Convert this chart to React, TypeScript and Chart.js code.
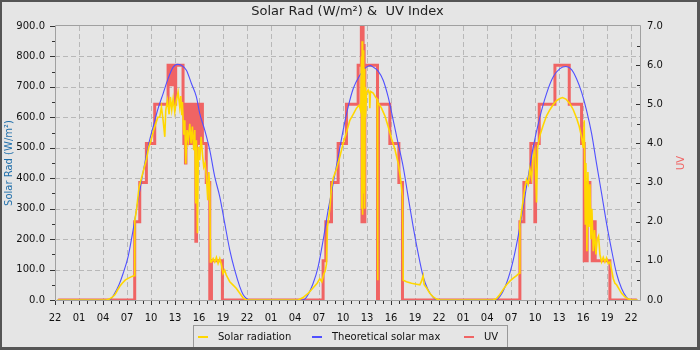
import React, { useEffect, useRef } from "react";
import { Chart, registerables } from "chart.js";

Chart.register(...registerables);

// ---------- text ----------
const TITLE = "Solar Rad (W/m²) &  UV Index";
const LEFT_TITLE = "Solar Rad (W/m²)";
const RIGHT_TITLE = "UV";
const SERIES_NAMES = ["Solar radiation", "Theoretical solar max", "UV"];

// x values are hours since the first tick (22:00)
const START_HOUR = 22;
const X_MAX = 73.1;
const RAD_MAX = 900;
const UV_MAX = 7;

// ---------- Solar radiation (W/m²): [hour, value] ----------
const solarDay1: [number, number][] = [
  [0.3, 0], [6.4, 0], [6.8, 3], [7.2, 10], [7.5, 18], [7.8, 32], [8.1, 45], [8.4, 55], [8.8, 66],
  [9.2, 72], [9.5, 76], [9.9, 80], [9.97, 260], [10.2, 300], [10.5, 370], [10.8, 400], [11.1, 430],
  [11.4, 460], [11.7, 500], [12.0, 525], [12.3, 555], [12.6, 580], [12.85, 600], [13.09, 601],
  [13.3, 634], [13.51, 590], [13.72, 536], [13.84, 623], [14.05, 656], [14.26, 610], [14.42, 667],
  [14.59, 625], [14.76, 661], [14.97, 617], [15.17, 656], [15.38, 683], [15.59, 634], [15.72, 670],
  [15.84, 607], [15.92, 650], [16.09, 543], [16.22, 590], [16.34, 448], [16.5, 558], [16.67, 525],
  [16.84, 579], [17.01, 514], [17.17, 570], [17.34, 492], [17.47, 558], [17.59, 317], [17.67, 525],
  [17.8, 219], [17.92, 503], [18.09, 459], [18.26, 536], [18.42, 481], [18.59, 437], [18.76, 450],
  [18.92, 405], [19.09, 328], [19.22, 420], [19.34, 372], [19.42, 125], [19.55, 125], [19.76, 136],
  [19.96, 125], [20.17, 140], [20.38, 120], [20.59, 136], [20.8, 115], [21.0, 87], [21.2, 98],
  [21.4, 82], [21.84, 60], [22.26, 49], [22.67, 38], [23.09, 22], [23.5, 7], [23.92, 0],
];
const solarDay2: [number, number][] = [
  [30.38, 0], [31.0, 8], [31.63, 22], [32.26, 40], [32.76, 55], [33.09, 70], [33.34, 60], [33.59, 85],
  [33.76, 95], [33.92, 118], [34.05, 240], [34.34, 300], [34.55, 370], [34.76, 400], [35.17, 430],
  [35.59, 470], [36.01, 515], [36.42, 550], [36.84, 590], [37.26, 610], [37.67, 630], [38.0, 640],
  [38.21, 620], [38.3, 800], [38.34, 300], [38.38, 850], [38.44, 280], [38.5, 820], [38.57, 350],
  [38.63, 760], [38.7, 300], [38.76, 700], [38.8, 600], [38.92, 680], [39.13, 690], [39.3, 675],
  [39.34, 630], [39.42, 685], [39.76, 680], [40.09, 665], [40.26, 660], [40.3, 65], [40.36, 650],
  [40.8, 630], [41.22, 605], [41.63, 570], [42.05, 530], [42.47, 495], [42.88, 450], [43.17, 400],
  [43.42, 340], [43.51, 65], [43.92, 60], [44.55, 55], [45.17, 52], [45.59, 50], [45.8, 62],
  [46.0, 80], [46.13, 50], [46.42, 40], [46.84, 22], [47.26, 10], [47.67, 3], [48.09, 0],
];
const solarDay3: [number, number][] = [
  [54.76, 0], [55.17, 5], [55.59, 18], [56.01, 35], [56.42, 50], [56.84, 62], [57.26, 72], [57.67, 80],
  [58.01, 88], [58.09, 250], [58.3, 290], [58.51, 330], [58.72, 370], [58.92, 395], [59.13, 380],
  [59.34, 430], [59.55, 400], [59.76, 470], [59.96, 490], [60.17, 320], [60.3, 500], [60.59, 540],
  [61.01, 575], [61.42, 605], [61.84, 625], [62.26, 642], [62.67, 655], [63.09, 662], [63.42, 665],
  [63.84, 660], [64.34, 645], [64.76, 625], [65.17, 598], [65.51, 570], [65.8, 535], [66.01, 500],
  [66.13, 590], [66.26, 250], [66.34, 450], [66.47, 160], [66.59, 420], [66.72, 240], [66.84, 380],
  [66.97, 200], [67.09, 300], [67.26, 160], [67.42, 230], [67.59, 150], [67.76, 200], [67.92, 210],
  [68.09, 150], [68.3, 125], [68.51, 140], [68.72, 125], [68.92, 138], [69.13, 120], [69.34, 125],
  [69.55, 100], [69.76, 70], [69.97, 55], [70.17, 50], [70.51, 35], [70.8, 22], [71.22, 10],
  [71.63, 3], [72.05, 0], [72.8, 0],
];

// ---------- Theoretical solar max (W/m²): [hour, value] ----------
const theoDay1: [number, number][] = [
  [0.3, 0], [6.5, 0], [7.0, 4], [7.46, 22], [8.0, 50], [8.51, 87], [9.13, 142], [9.76, 230],
  [10.38, 328], [11.01, 420], [11.63, 503], [12.26, 569], [12.88, 629], [13.51, 678], [14.13, 727],
  [14.76, 765], [15.26, 774], [15.8, 771], [16.42, 755], [17.05, 711], [17.67, 667], [18.09, 612],
  [18.71, 558], [19.34, 492], [19.96, 405], [20.59, 339], [21.21, 252], [21.84, 164], [22.46, 98],
  [23.09, 44], [23.5, 18], [23.92, 5], [24.3, 0],
];
const theoDay2: [number, number][] = [
  [30.9, 0], [31.42, 9], [32.26, 55], [32.88, 109], [33.51, 197], [34.13, 295], [34.76, 383],
  [35.38, 470], [36.01, 558], [36.63, 634], [37.26, 694], [38.09, 738], [38.92, 765], [39.4, 770],
  [39.76, 765], [40.38, 752], [41.01, 722], [41.63, 667], [42.26, 591], [42.88, 514], [43.51, 437],
  [44.13, 339], [44.76, 240], [45.38, 153], [46.01, 77], [46.63, 33], [47.26, 9], [47.88, 0],
];
const theoDay3: [number, number][] = [
  [54.96, 0], [55.6, 12], [56.42, 55], [57.26, 131], [58.09, 240], [58.92, 372], [59.76, 503],
  [60.59, 601], [61.42, 678], [62.26, 733], [63.09, 760], [63.84, 767], [64.55, 757], [65.17, 727],
  [65.8, 683], [66.42, 623], [67.05, 547], [67.67, 448], [68.3, 350], [68.92, 252], [69.55, 164],
  [70.17, 87], [70.8, 38], [71.42, 9], [72.05, 0], [72.8, 0],
];

// ---------- UV index (value holds from its hour to the next): [hour, value] ----------
const uvDay1: [number, number][] = [
  [0.4, 0], [9.96, 2], [10.59, 3], [11.42, 4], [12.46, 5], [14.13, 6], [14.2, 5.5], [14.28, 6],
  [14.36, 5.5], [14.44, 6], [14.52, 5.5], [14.6, 6], [14.68, 5.5], [14.76, 6], [14.84, 5.5],
  [14.92, 6], [15.02, 5], [15.08, 6], [16.0, 5], [16.1, 4], [16.2, 5], [16.3, 3.5], [16.36, 5],
  [16.5, 4], [16.6, 5], [16.75, 4], [16.85, 5], [17.0, 4], [17.1, 5], [17.25, 4], [17.35, 5],
  [17.5, 4], [17.6, 1.5], [17.68, 5], [17.8, 4], [17.9, 5], [18.0, 4], [18.1, 5], [18.25, 4],
  [18.3, 5], [18.42, 4], [18.9, 3], [19.34, 0], [19.55, 1], [20.92, 0],
];
const uvDay2: [number, number][] = [
  [33.5, 1], [33.84, 2], [34.55, 3], [35.38, 4], [36.42, 5], [37.88, 6], [38.28, 7], [38.36, 2],
  [38.42, 7], [38.5, 2], [38.58, 6.5], [38.63, 2], [38.72, 6], [40.3, 0], [40.42, 5], [41.84, 4],
  [42.97, 3], [43.42, 0],
];
const uvDay3: [number, number][] = [
  [58.09, 2], [58.59, 3], [59.46, 4], [59.96, 2], [60.05, 4], [60.51, 5], [62.47, 6], [64.26, 5],
  [65.8, 4], [66.13, 1], [66.5, 3], [66.84, 2], [67.13, 1], [67.34, 2], [67.5, 1], [69.34, 0],
  [72.7, 0],
];

const toPoints = (...days: [number, number][][]) =>
  days.flat().map(([x, y]) => ({ x, y }));

const FONT = "DejaVu Sans";
const BG = "#E5E5E5";

const decorPlugin = {
  id: "decor",
  beforeDraw(chart: any) {
    const { ctx, width, height } = chart;
    ctx.save();
    ctx.fillStyle = BG;
    ctx.fillRect(0, 0, width, height);
    ctx.restore();
  },
  beforeDatasetsDraw(chart: any) {
    const { ctx, chartArea: a, scales } = chart;
    const xs = scales.x, ys = scales.y, us = scales.uv;
    ctx.save();
    // dashed grid
    ctx.strokeStyle = "#B8B8B8";
    ctx.lineWidth = 1;
    ctx.setLineDash([5, 3]);
    xs.ticks.forEach((t: any) => {
      const v = Math.round(t.value * 1000) / 1000;
      if (!Number.isInteger(v) || v % 3 !== 0 || v === 0) return;
      const px = Math.round(xs.getPixelForValue(v)) + 0.5;
      ctx.beginPath(); ctx.moveTo(px, a.top); ctx.lineTo(px, a.bottom); ctx.stroke();
    });
    ys.ticks.forEach((t: any) => {
      const v = Math.round(t.value);
      if (v % 100 !== 0 || v === 0 || v === RAD_MAX) return;
      const py = Math.round(ys.getPixelForValue(v)) + 0.5;
      ctx.beginPath(); ctx.moveTo(a.left, py); ctx.lineTo(a.right, py); ctx.stroke();
    });
    ctx.setLineDash([]);
    // frame
    ctx.strokeStyle = "#A0A0A0";
    ctx.beginPath();
    ctx.moveTo(a.left + 0.5, a.top - 0.5);
    ctx.lineTo(a.right + 0.5, a.top - 0.5);
    ctx.lineTo(a.right + 0.5, a.bottom + 0.5);
    ctx.lineTo(a.left + 0.5, a.bottom + 0.5);
    ctx.closePath();
    ctx.stroke();
    // tick marks
    ctx.strokeStyle = "#333";
    xs.ticks.forEach((t: any) => {
      const v = Math.round(t.value * 1000) / 1000;
      if (!Number.isInteger(v)) return;
      const px = Math.round(xs.getPixelForValue(v)) + 0.5;
      const len = v % 3 === 0 ? 4 : 3;
      ctx.beginPath(); ctx.moveTo(px, a.bottom + 1); ctx.lineTo(px, a.bottom + 1 + len); ctx.stroke();
    });
    ys.ticks.forEach((t: any) => {
      const v = Math.round(t.value);
      const py = Math.round(ys.getPixelForValue(v)) + 0.5;
      const len = v % 100 === 0 ? 5 : 3;
      ctx.beginPath(); ctx.moveTo(a.left, py); ctx.lineTo(a.left - len, py); ctx.stroke();
    });
    us.ticks.forEach((t: any) => {
      const v = Math.round(t.value * 100) / 100;
      if (v === 0 || v === UV_MAX) return;
      const py = Math.round(us.getPixelForValue(v)) + 0.5;
      const len = Number.isInteger(v) ? 4 : 3;
      ctx.beginPath(); ctx.moveTo(a.right, py); ctx.lineTo(a.right - len, py); ctx.stroke();
    });
    ctx.restore();
  },
  afterDraw(chart: any) {
    const { ctx, chartArea: a, width, height } = chart;
    const ds = chart.data.datasets;
    ctx.save();
    // title
    ctx.fillStyle = "#222";
    ctx.font = `13px ${FONT}`;
    ctx.textAlign = "center";
    ctx.textBaseline = "middle";
    ctx.fillText(TITLE, (a.left + a.right) / 2, 12);
    // left axis title
    ctx.font = `10px ${FONT}`;
    ctx.save();
    ctx.translate(9, (a.top + a.bottom) / 2);
    ctx.rotate(-Math.PI / 2);
    ctx.fillStyle = "#1E6EAA";
    ctx.fillText(LEFT_TITLE, 0, 0);
    ctx.restore();
    // right axis title
    ctx.save();
    ctx.translate(681, (a.top + a.bottom) / 2);
    ctx.rotate(-Math.PI / 2);
    ctx.fillStyle = ds[2].borderColor;
    ctx.fillText(RIGHT_TITLE, 0, 0);
    ctx.restore();
    // legend
    const lx = 193, ly = 325, lw = 314, lh = 24;
    ctx.fillStyle = BG;
    ctx.fillRect(lx, ly, lw, lh);
    ctx.strokeStyle = "#999";
    ctx.lineWidth = 1;
    ctx.strokeRect(lx + 0.5, ly + 0.5, lw, lh);
    const items = [
      { sx: 198, tx: 218 },
      { sx: 312, tx: 332 },
      { sx: 464, tx: 484 },
    ];
    ctx.textAlign = "left";
    ctx.textBaseline = "middle";
    ctx.font = `10px ${FONT}`;
    items.forEach((it, i) => {
      ctx.strokeStyle = ds[i].borderColor;
      ctx.lineWidth = 2;
      ctx.beginPath(); ctx.moveTo(it.sx, 337); ctx.lineTo(it.sx + 10, 337); ctx.stroke();
      ctx.fillStyle = "#111";
      ctx.fillText(ds[i].label, it.tx, 337);
    });
    // outer border
    ctx.fillStyle = "#555";
    ctx.fillRect(0, 0, width, 2);
    ctx.fillRect(0, 0, 2, height);
    ctx.fillRect(width - 3, 0, 3, height);
    ctx.fillRect(0, height - 3, width, 3);
    ctx.restore();
  },
};

const tickFont = { family: FONT, size: 10 };

export default function App() {
  const ref = useRef<HTMLCanvasElement | null>(null);
  useEffect(() => {
    const canvas = ref.current;
    if (!canvas) return;
    const chart = new Chart(canvas, {
      type: "line",
      data: {
        datasets: [
          {
            label: SERIES_NAMES[0],
            data: toPoints(solarDay1, solarDay2, solarDay3),
            borderColor: "#FFD700",
            borderWidth: 1.6,
            pointRadius: 0,
            yAxisID: "y",
          },
          {
            label: SERIES_NAMES[1],
            data: toPoints(theoDay1, theoDay2, theoDay3),
            borderColor: "#5050FF",
            borderWidth: 1.1,
            pointRadius: 0,
            cubicInterpolationMode: "monotone",
            yAxisID: "y",
          },
          {
            label: SERIES_NAMES[2],
            data: toPoints(uvDay1, uvDay2, uvDay3),
            borderColor: "#F06464",
            borderWidth: 3,
            pointRadius: 0,
            stepped: "before",
            yAxisID: "uv",
          },
        ],
      },
      options: {
        responsive: false,
        animation: false,
        devicePixelRatio: 1,
        layout: { padding: { top: 26, left: 0, right: 0, bottom: 0 } },
        plugins: {
          legend: { display: false },
          title: { display: false },
          tooltip: { enabled: false },
        },
        scales: {
          x: {
            type: "linear",
            min: 0,
            max: X_MAX,
            grid: { display: false, drawTicks: false },
            border: { display: false },
            ticks: {
              stepSize: 1,
              autoSkip: false,
              maxRotation: 0,
              padding: 12,
              color: "#111",
              font: tickFont,
              callback: (value: any) => {
                const v = Math.round(Number(value) * 1000) / 1000;
                if (!Number.isInteger(v) || v % 3 !== 0) return "";
                return String((START_HOUR + v) % 24).padStart(2, "0");
              },
            },
            afterFit: (s: any) => { s.height = 50; },
          },
          y: {
            type: "linear",
            position: "left",
            min: 0,
            max: RAD_MAX,
            grid: { display: false, drawTicks: false },
            border: { display: false },
            ticks: {
              stepSize: 50,
              padding: 10,
              color: "#111",
              font: tickFont,
              callback: (value: any) => {
                const v = Math.round(Number(value));
                return v % 100 === 0 ? v.toFixed(1) : "";
              },
            },
            afterFit: (s: any) => { s.width = 55; },
          },
          uv: {
            type: "linear",
            position: "right",
            min: 0,
            max: UV_MAX,
            grid: { display: false, drawTicks: false },
            border: { display: false },
            ticks: {
              stepSize: 0.5,
              padding: 7,
              color: "#111",
              font: tickFont,
              callback: (value: any) => {
                const v = Math.round(Number(value) * 100) / 100;
                return Number.isInteger(v) ? v.toFixed(1) : "";
              },
            },
            afterFit: (s: any) => { s.width = 60; },
          },
        },
      },
      plugins: [decorPlugin],
    } as any);
    return () => chart.destroy();
  }, []);
  return (
    <div style={{ position: "fixed", left: 0, top: 0, width: 700, height: 350 }}>
      <canvas ref={ref} width={700} height={350} style={{ display: "block", width: 700, height: 350 }} />
    </div>
  );
}
